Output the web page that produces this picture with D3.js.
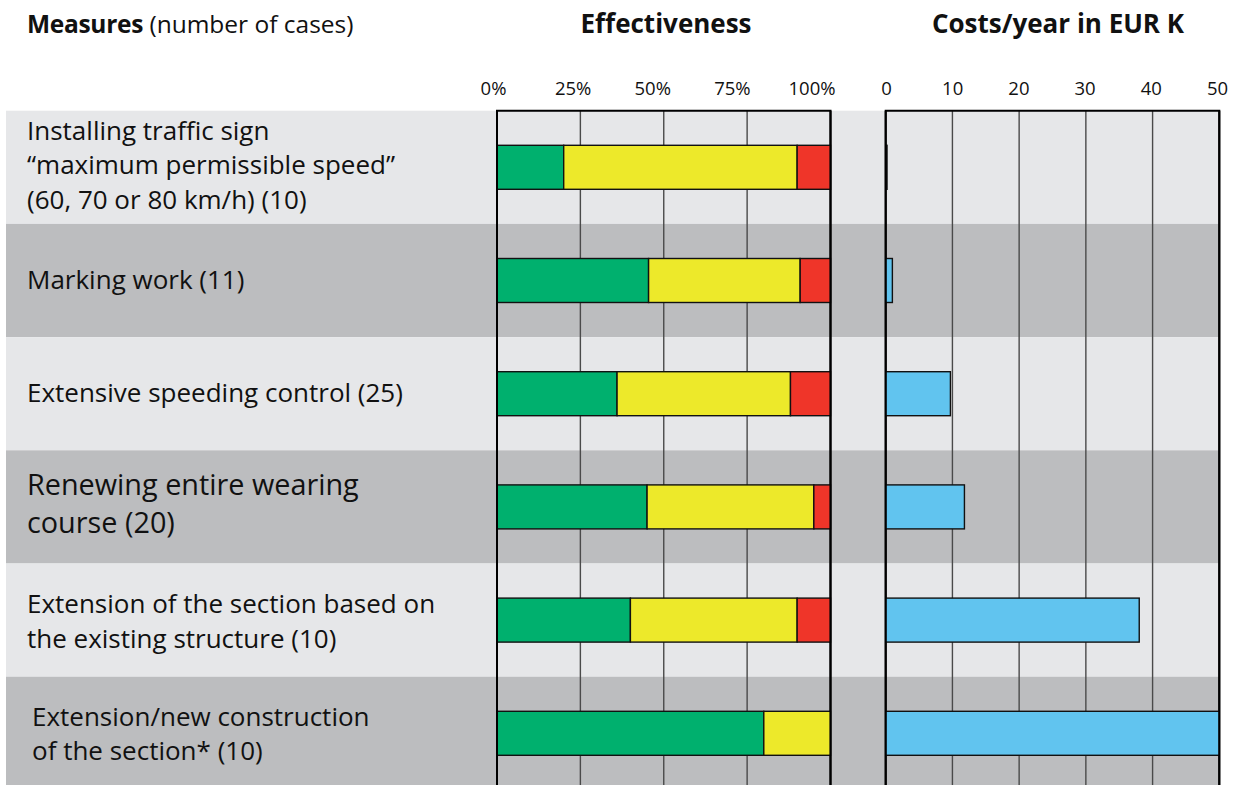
<!DOCTYPE html>
<html>
<head>
<meta charset="utf-8">
<script src="https://cdn.jsdelivr.net/npm/d3@7"></script>
<style>
  html, body { margin: 0; padding: 0; background: #fff; }
  svg { display: block; font-family: "Open Sans", "Noto Sans", sans-serif; }
</style>
</head>
<body>
<svg id="chart" width="1236" height="785"></svg>
<script>
// Measures and their number of cases
const measures = [
  "Traffic sign",
  "Marking work",
  "Speeding control",
  "Wearing course",
  "Extension existing",
  "Extension new"
];
const measureLabels = [
  ["Installing traffic sign", "\u201cmaximum permissible speed\u201d", "(60, 70 or 80 km/h) (10)"],
  ["Marking work (11)"],
  ["Extensive speeding control (25)"],
  ["Renewing entire wearing", "course (20)"],
  ["Extension of the section based on", "the existing structure (10)"],
  ["Extension/new construction", "of the section* (10)"]
];
const cases = [10, 11, 25, 20, 10, 10];

// Effectiveness: number of cases per rating
const effective = [2, 5, 9, 9, 4, 8];
const partlyEffective = [7, 5, 13, 10, 5, 2];
const notEffective = [1, 1, 3, 1, 1, 0];

// Costs per year in EUR thousand
const costs = [0.2, 1, 9.7, 11.8, 38, 50];

// Tick labels
const effTicks = [0, 25, 50, 75, 100];
const effTickLabels = ["0%", "25%", "50%", "75%", "100%"];
const costTicks = [0, 10, 20, 30, 40, 50];
const costTickLabels = ["0", "10", "20", "30", "40", "50"];

// ---------------------------------------------------------------
const svg = d3.select("#chart");
const topY = 110.7, bandH = 113.2, bottomY = 790;

const y = d3.scaleBand()
  .domain(measures)
  .range([topY, topY + bandH * measures.length])
  .paddingInner(0).paddingOuter(0);

const xEff = d3.scaleLinear().domain([0, 100]).range([497, 830.5]);
const xEffLabel = d3.scaleLinear().domain([0, 100]).range([493.5, 812]);
const xCost = d3.scaleLinear().domain([0, 50]).range([885.7, 1219.3]);
const xCostLabel = d3.scaleLinear().domain([0, 50]).range([886.5, 1217.5]);

const colors = {
  bandLight: "#e6e7e9",
  bandDark: "#bcbdbf",
  green: "#00b06e",
  yellow: "#ede92a",
  red: "#ef3529",
  blue: "#61c4ef"
};

// Alternating row bands
svg.append("g").selectAll("rect")
  .data(measures)
  .join("rect")
  .attr("x", 6)
  .attr("y", d => y(d))
  .attr("width", 1219.3 - 6)
  .attr("height", y.bandwidth())
  .attr("fill", (d, i) => i % 2 === 0 ? colors.bandLight : colors.bandDark);

// Headings
const head = svg.append("g").attr("fill", "#111");
const h1 = head.append("text").attr("x", 27).attr("y", 33).attr("font-size", 24.5);
h1.append("tspan").attr("font-weight", 700).attr("letter-spacing", -0.3).text("Measures");
h1.append("tspan").text(" (number of cases)");
head.append("text").attr("x", 666).attr("y", 33).attr("text-anchor", "middle")
  .attr("font-size", 26).attr("font-weight", 700).text("Effectiveness");
head.append("text").attr("x", 1058).attr("y", 33).attr("text-anchor", "middle")
  .attr("font-size", 26).attr("font-weight", 700).text("Costs/year in EUR K");

// Row labels
const labelFont = [26, 26, 26, 28.8, 26, 26];
const labelX = [27, 27, 27, 27, 27, 32];
const lineGap = [34.5, 34.5, 34.5, 38, 35, 34.5];
const labelShift = [7, 8.5, 8.5, 7.5, 10.5, 9.5];
const labels = svg.append("g").attr("fill", "#111");
measures.forEach((m, i) => {
  const lines = measureLabels[i];
  const cy = y(m) + y.bandwidth() / 2;
  const t = labels.append("text").attr("font-size", labelFont[i]);
  lines.forEach((ln, j) => {
    t.append("tspan")
      .attr("x", labelX[i])
      .attr("y", cy + labelShift[i] + (j - (lines.length - 1) / 2) * lineGap[i])
      .text(ln);
  });
});

// Panel frames and gridlines
function panel(x, ticks, tickLabels, xLabel) {
  const g = svg.append("g");
  g.selectAll("line.grid")
    .data(ticks.slice(1, -1))
    .join("line")
    .attr("x1", d => x(d)).attr("x2", d => x(d))
    .attr("y1", topY).attr("y2", bottomY)
    .attr("stroke", "#4a4a4a").attr("stroke-width", 1.4);
  const [x0, x1] = x.range();
  g.append("path")
    .attr("d", `M${x0},${bottomY}V${topY}H${x1}V${bottomY}`)
    .attr("fill", "none").attr("stroke", "#000").attr("stroke-width", 2);
  g.selectAll("text")
    .data(ticks)
    .join("text")
    .attr("x", d => xLabel(d))
    .attr("y", 95)
    .attr("text-anchor", "middle")
    .attr("font-size", 18.5)
    .attr("fill", "#111")
    .text((d, i) => tickLabels[i]);
  return g;
}
panel(xEff, effTicks, effTickLabels, xEffLabel);
panel(xCost, costTicks, costTickLabels, xCostLabel);

// Effectiveness stacked bars (share of cases)
const barH = 44;
const stackData = measures.map((m, i) => ({
  m,
  effective: effective[i] / cases[i] * 100,
  partly: partlyEffective[i] / cases[i] * 100,
  not: notEffective[i] / cases[i] * 100
}));
const keys = ["effective", "partly", "not"];
const keyColor = { effective: colors.green, partly: colors.yellow, not: colors.red };
const series = d3.stack().keys(keys)(stackData);
svg.append("g").selectAll("g")
  .data(series)
  .join("g")
  .attr("fill", d => keyColor[d.key])
  .selectAll("rect")
  .data(d => d.filter(s => s[1] - s[0] > 0))
  .join("rect")
  .attr("x", d => xEff(d[0]))
  .attr("y", d => y(d.data.m) + (y.bandwidth() - barH) / 2)
  .attr("width", d => xEff(d[1]) - xEff(d[0]))
  .attr("height", barH)
  .attr("stroke", "#111")
  .attr("stroke-width", 1.4);

// Cost bars
svg.append("g").selectAll("rect")
  .data(measures)
  .join("rect")
  .attr("x", xCost(0))
  .attr("y", d => y(d) + (y.bandwidth() - barH) / 2)
  .attr("width", (d, i) => xCost(costs[i]) - xCost(0))
  .attr("height", barH)
  .attr("fill", colors.blue)
  .attr("stroke", "#111")
  .attr("stroke-width", 1.4);

// Frame verticals on top of the bars
[xEff, xCost].forEach(x => {
  svg.append("g").selectAll("line")
    .data(x.range())
    .join("line")
    .attr("x1", d => d).attr("x2", d => d)
    .attr("y1", topY).attr("y2", bottomY)
    .attr("stroke", "#000").attr("stroke-width", 2);
});
</script>
</body>
</html>
